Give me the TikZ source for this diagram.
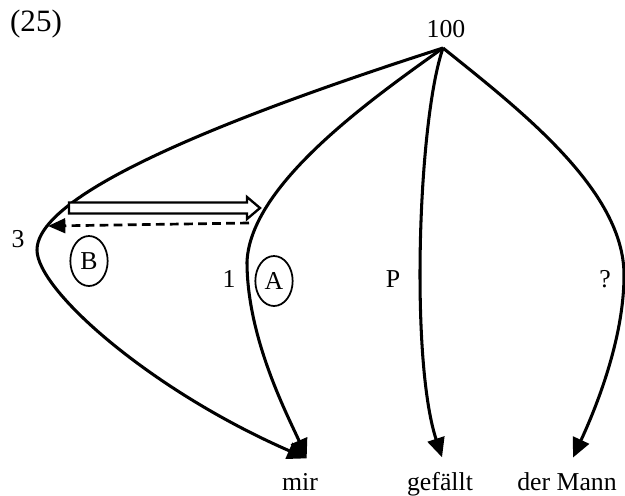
\documentclass[tikz,border=0pt]{standalone}
\usepackage{fontspec}
\setmainfont{Liberation Serif}
\usetikzlibrary{arrows.meta,calc,shapes.geometric}

\begin{document}
\begin{tikzpicture}[
  x=0.03cm,y=-0.03cm,
  font=\fontsize{22}{26}\selectfont,
  w/.style={inner sep=0pt,anchor=base},
  leaf/.style={inner sep=0pt,inner ysep=4.3mm,anchor=base},
  tag/.style={ellipse,draw,line width=1.5pt,minimum width=11.2mm,minimum height=15mm,inner sep=0pt},
  a/.style={-{Triangle[length=5.8mm,width=5.2mm]},line width=2.6pt},
  back/.style={-{Triangle[length=5.2mm,width=4.4mm]},line width=2.3pt,dash pattern=on 7.5pt off 4.5pt},
  hollow/.style={line width=2pt,fill=white,line join=miter}
]
\useasboundingbox (0,0) rectangle (625,495);
\node[w,font=\fontsize{26.5}{30}\selectfont] (ex) at (36,31) {(25)};
\node[w] (top) at (446,37) {100};
\coordinate (root) at (443,48);
\node[w] (three) at (18,247) {3};
\node[tag] (b) at (89,261) {B};
\node[w] (one) at (229,287) {1};
\node[tag] (a) at (274,281) {A};
\node[w] (p) at (393,287) {P};
\node[w] (q) at (605,287) {?};
\node[leaf] (mir) at (300,490) {mir};
\node[leaf] (gef) at (440,490) {gefällt};
\node[leaf] (mann) at (567,490) {der Mann};
\draw[a] (root) .. controls (250,110) and (37,190) .. (37,250)
  .. controls (37,290) and (150,390) .. ([xshift=2mm]mir.north);
\draw[a] (root) .. controls (370,100) and (250,185) .. (247,262)
  .. controls (247,340) and (290,420) .. ([xshift=2mm]mir.north);
\draw[a] (root) .. controls (418,120) and (410,360) .. ([xshift=0.6mm]gef.north);
\draw[a] (root) .. controls (520,110) and (624,190) .. (624,275)
  .. controls (624,340) and (595,410) .. ([xshift=1.8mm]mann.north);
\coordinate (ds) at (69,208);
\coordinate (de) at (260,208);
\draw[hollow] ($(ds)+(0,-5.5)$) -- ($(de)+(-13,-5.5)$) -- ($(de)+(-13,-11)$) -- (de)
  -- ($(de)+(-13,11)$) -- ($(de)+(-13,5.5)$) -- ($(ds)+(0,5.5)$) -- cycle;
\coordinate (ks) at (249,223);
\coordinate (ke) at (48,226);
\draw[back] (ks) -- (ke);
\end{tikzpicture}
\end{document}
